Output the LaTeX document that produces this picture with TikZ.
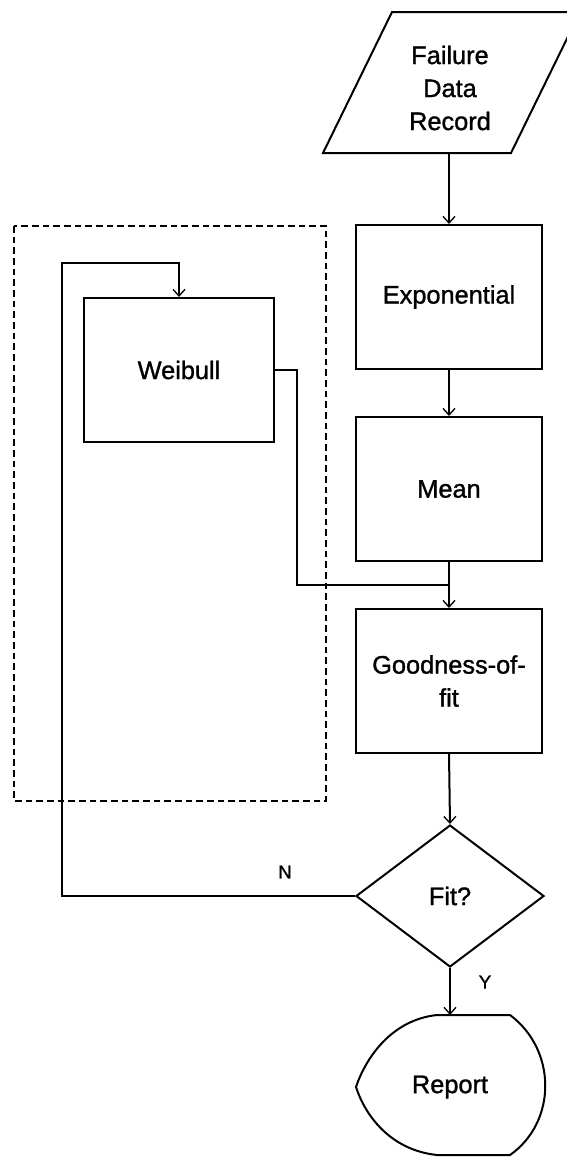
\documentclass[tikz,border=0pt]{standalone}
\usepackage{fontspec}
\setmainfont{Liberation Sans}[BoldFont={Liberation Sans}, BoldFeatures={FakeBold=1.2}]
\usetikzlibrary{arrows.meta,shapes.geometric}
\begin{document}
\begin{tikzpicture}[x=0.75pt,y=-0.75pt,
  line/.style={line width=1.5pt, line join=miter},
  arr/.style={line, -{Straight Barb[length=5pt,width=9pt,line width=1pt]}},
  stepbox/.style={draw, line width=1.5pt, minimum width=139.5pt, minimum height=108pt,
                  inner sep=0pt, align=center, font=\fontsize{19}{24.75}\selectfont\bfseries},
  lbl/.style={font=\fontsize{19}{24.75}\selectfont\bfseries, align=center, inner sep=0pt},
  yn/.style={font=\fontsize{14}{16}\selectfont\bfseries, inner sep=0pt}]
\clip (0,0) rectangle (567,1157);
\fill[white] (0,0) rectangle (567,1157);

% input record (parallelogram)
\draw[line] (392,12) -- (580,12) -- (511,153) -- (323,153) -- cycle;
\node[lbl] (data) at (450,88) {Failure\\Data\\Record};
\coordinate (dataout) at (449,153);

% process boxes
\node[stepbox] (expo) at (449,297) {Exponential};
\node[stepbox] (mean) at (449,489) {Mean};
\node[stepbox] (good) at (449,681) {Goodness-of-\\fit};
\node[stepbox, minimum width=142.5pt] (weib) at (179,370) {Weibull};

% dashed group around the alternative model
\draw[line width=2.2pt, dash pattern=on 5pt off 3pt] (14,226) rectangle (326,801);

% decision
\node[draw, line width=1.5pt, diamond, minimum width=141pt, minimum height=106.5pt,
      inner sep=0pt, font=\fontsize{19}{24.75}\selectfont\bfseries] (fit) at (450,896) {Fit?};

% report (display shape)
\draw[line] (437,1015) -- (510,1015)
  .. controls (557,1050) and (557,1122) .. (510,1155) -- (437,1155)
  .. controls (390,1150) and (365,1115) .. (356,1087)
  .. controls (365,1060) and (390,1020) .. (437,1015) -- cycle;
\node[lbl] (report) at (450,1087) {Report};
\coordinate (reptop) at (450,1015);

% connectors
\coordinate (junc) at (449,585);
\coordinate (wcorner) at (297,585);
\coordinate (loopbl) at (62,896);
\coordinate (looptl) at (62,263);

\draw[arr] (dataout) -- (expo.north);
\draw[arr] (expo.south) -- (mean.north);
\draw[arr] (mean.south) -- (good.north);
\draw[arr] (good.south) -- (fit.north);
\draw[arr] (fit.south) -- (reptop);
\draw[line] (weib.east) -| (wcorner) -- (junc);
\draw[arr] (fit.west) -- (loopbl) -- (looptl) -| (weib.north);

% branch labels
\node[yn] (nlab) at (285,872) {N};
\node[yn] (ylab) at (485,982) {Y};
\end{tikzpicture}
\end{document}
